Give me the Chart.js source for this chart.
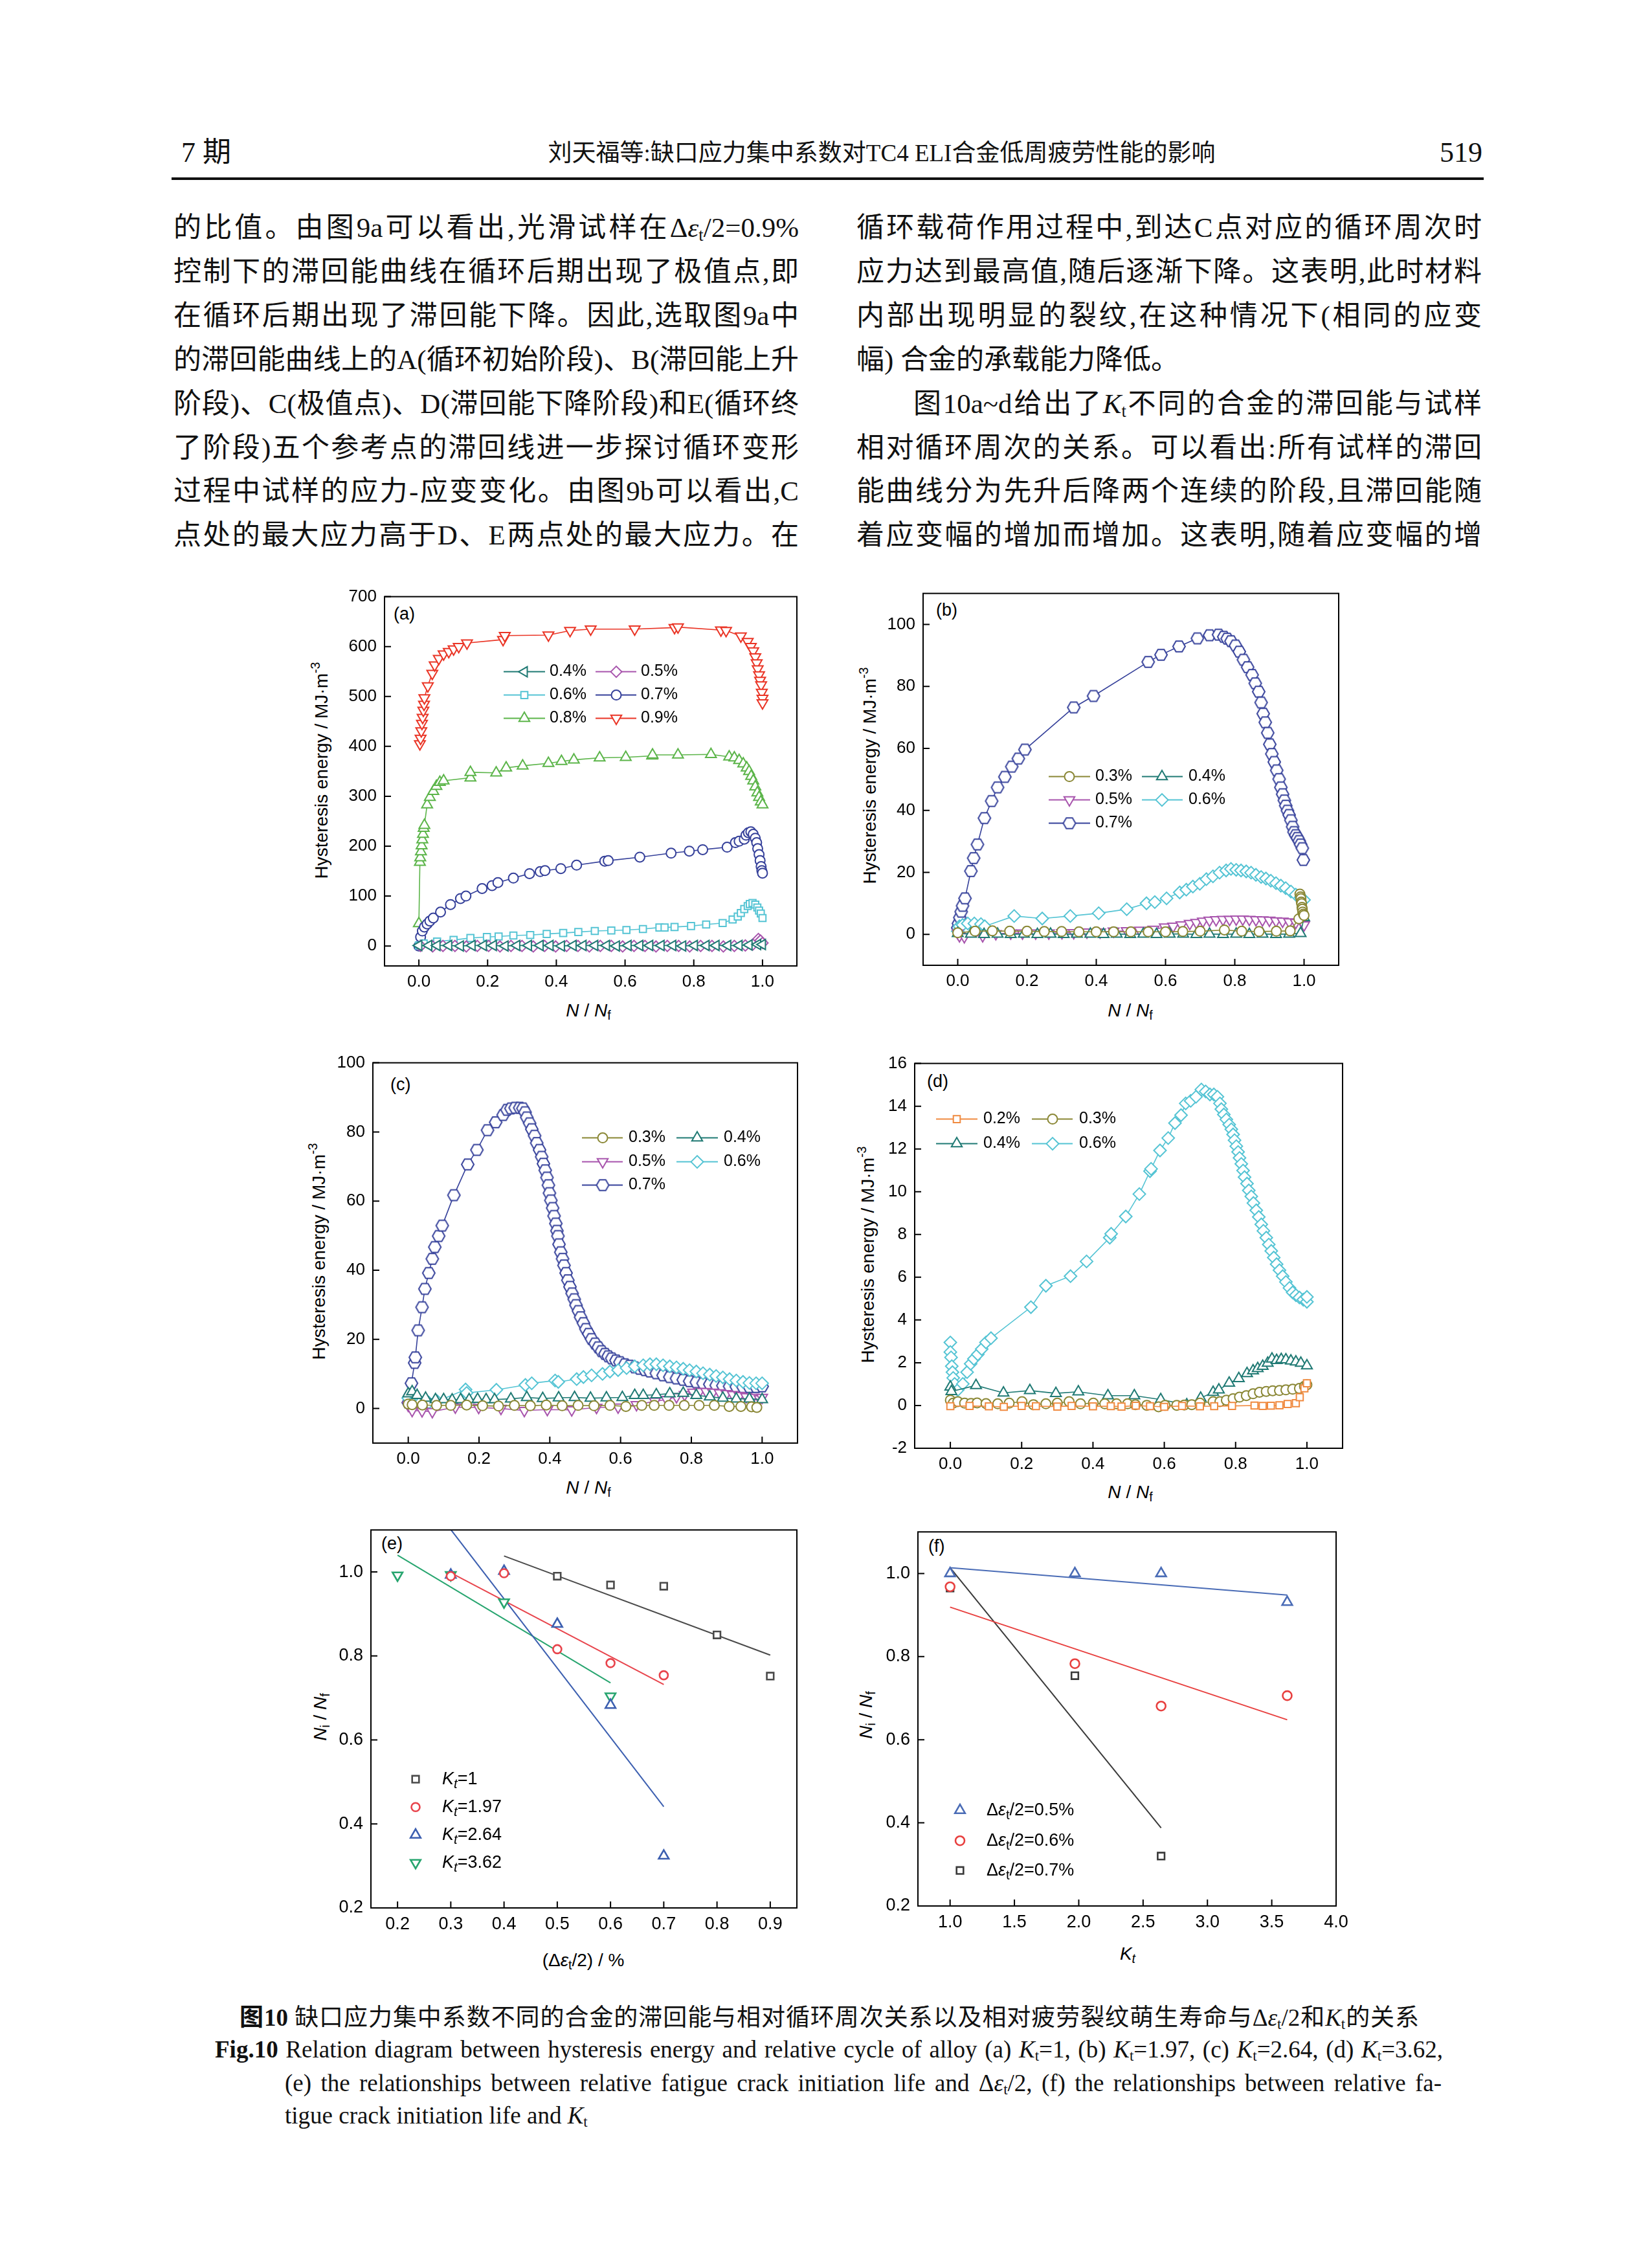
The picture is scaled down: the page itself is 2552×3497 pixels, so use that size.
<!DOCTYPE html>
<html lang="zh">
<head>
<meta charset="utf-8">
<title>图10</title>
<script src="https://cdn.jsdelivr.net/npm/chart.js@4.4.1/dist/chart.umd.min.js"></script>
<style>
  html, body { margin: 0; padding: 0; background: #fff; }
  #page { position: relative; width: 2552px; height: 3497px; background: #fff; overflow: hidden; }
  .t { position: absolute; white-space: nowrap; color: #111; font-family: "Liberation Serif", "Noto Sans CJK SC", serif; }
  .ln { position: absolute; width: 966px; height: 50px; line-height: 50px; font-size: 43px; white-space: nowrap;
        text-align: justify; text-align-last: justify; color: #111;
        font-family: "Liberation Serif", "Noto Sans CJK SC", serif; }
  .ln sub, .cap sub { font-size: 0.62em; vertical-align: -0.22em; line-height: 0; }
  .ax { position: absolute; white-space: nowrap; font-family: "Liberation Sans", Arial, sans-serif; font-size: 28px; color: #000; transform: translate(-50%, -50%); }
  .ax.rot { transform: translate(-50%, -50%) rotate(-90deg); }
  .ax sub { font-size: 0.7em; vertical-align: -0.25em; line-height: 0; }
  .ax sup { font-size: 0.7em; vertical-align: 0.6em; line-height: 0; }
  .pl { position: absolute; font-family: "Liberation Sans", Arial, sans-serif; font-size: 27px; line-height: 30px; color: #000; }
  .cap { position: absolute; height: 46px; line-height: 46px; white-space: nowrap; color: #111;
         font-family: "Liberation Serif", "Noto Sans CJK SC", serif; }
  .just { text-align: justify; text-align-last: justify; }
</style>
</head>
<body>
<div id="page">
  <!-- page header -->
  <div class="t" style="left:280px; top:211px; font-size:44px; line-height:50px;">7 期</div>
  <div class="t" style="left:1362px; top:212px; font-size:37px; line-height:50px; transform:translateX(-50%);">刘天福等:缺口应力集中系数对TC4 ELI合金低周疲劳性能的影响</div>
  <div class="t" style="right:262px; top:211px; font-size:44px; line-height:50px;">519</div>
  <div style="position:absolute; left:265px; top:274px; width:2027px; height:4px; background:#111;"></div>

  <!-- left column -->
  <div class="ln" style="left:268px; top:327px;">的比值。由图9a可以看出,光滑试样在Δ<i>ε</i><sub>t</sub>/2=0.9%</div>
  <div class="ln" style="left:268px; top:395px;">控制下的滞回能曲线在循环后期出现了极值点,即</div>
  <div class="ln" style="left:268px; top:463px;">在循环后期出现了滞回能下降。因此,选取图9a中</div>
  <div class="ln" style="left:268px; top:531px;">的滞回能曲线上的A(循环初始阶段)、B(滞回能上升</div>
  <div class="ln" style="left:268px; top:599px;">阶段)、C(极值点)、D(滞回能下降阶段)和E(循环终</div>
  <div class="ln" style="left:268px; top:667px;">了阶段)五个参考点的滞回线进一步探讨循环变形</div>
  <div class="ln" style="left:268px; top:734px;">过程中试样的应力-应变变化。由图9b可以看出,C</div>
  <div class="ln" style="left:268px; top:802px;">点处的最大应力高于D、E两点处的最大应力。在</div>

  <!-- right column -->
  <div class="ln" style="left:1323px; top:327px;">循环载荷作用过程中,到达C点对应的循环周次时</div>
  <div class="ln" style="left:1323px; top:395px;">应力达到最高值,随后逐渐下降。这表明,此时材料</div>
  <div class="ln" style="left:1323px; top:463px;">内部出现明显的裂纹,在这种情况下(相同的应变</div>
  <div class="ln" style="left:1323px; top:531px; text-align:left; text-align-last:left;">幅) 合金的承载能力降低。</div>
  <div class="ln" style="left:1411px; top:599px; width:878px;">图10a~d给出了<i>K</i><sub>t</sub>不同的合金的滞回能与试样</div>
  <div class="ln" style="left:1323px; top:667px;">相对循环周次的关系。可以看出:所有试样的滞回</div>
  <div class="ln" style="left:1323px; top:734px;">能曲线分为先升后降两个连续的阶段,且滞回能随</div>
  <div class="ln" style="left:1323px; top:802px;">着应变幅的增加而增加。这表明,随着应变幅的增</div>

  <!-- panel letters -->
  <div class="pl" style="left:608px; top:933px;">(a)</div>
  <div class="pl" style="left:1446px; top:927px;">(b)</div>
  <div class="pl" style="left:603px; top:1660px;">(c)</div>
  <div class="pl" style="left:1432px; top:1655px;">(d)</div>
  <div class="pl" style="left:589px; top:2369px;">(e)</div>
  <div class="pl" style="left:1434px; top:2373px;">(f)</div>

  <!-- axis titles -->
  <div class="ax rot" style="left:497px; top:1190px;">Hysteresis energy / MJ·m<sup>-3</sup></div>
  <div class="ax rot" style="left:1344px; top:1198px;">Hysteresis energy / MJ·m<sup>-3</sup></div>
  <div class="ax rot" style="left:493px; top:1933px;">Hysteresis energy / MJ·m<sup>-3</sup></div>
  <div class="ax rot" style="left:1341px; top:1938px;">Hysteresis energy / MJ·m<sup>-3</sup></div>
  <div class="ax rot" style="left:495px; top:2652px;"><i>N</i><sub>i</sub> / <i>N</i><sub>f</sub></div>
  <div class="ax rot" style="left:1338px; top:2649px;"><i>N</i><sub>i</sub> / <i>N</i><sub>f</sub></div>
  <div class="ax" style="left:909px; top:1561px;"><i>N</i> / <i>N</i><sub>f</sub></div>
  <div class="ax" style="left:1746px; top:1561px;"><i>N</i> / <i>N</i><sub>f</sub></div>
  <div class="ax" style="left:909px; top:2298px;"><i>N</i> / <i>N</i><sub>f</sub></div>
  <div class="ax" style="left:1746px; top:2305px;"><i>N</i> / <i>N</i><sub>f</sub></div>
  <div class="ax" style="left:901px; top:3028px;">(Δ<i>ε</i><sub>t</sub>/2) / %</div>
  <div class="ax" style="left:1742px; top:3018px;"><i>K</i><sub><i>t</i></sub></div>

  <!-- caption -->
  <div class="cap just" style="left:370px; top:3094px; width:1822px; font-size:37px;"><b>图10</b> 缺口应力集中系数不同的合金的滞回能与相对循环周次关系以及相对疲劳裂纹萌生寿命与Δ<i>ε</i><sub>t</sub>/2和<i>K</i><sub>t</sub>的关系</div>
  <div class="cap just" style="left:332px; top:3143px; width:1897px; font-size:37px;"><b>Fig.10</b> Relation diagram between hysteresis energy and relative cycle of alloy (a) <i>K</i><sub>t</sub>=1, (b) <i>K</i><sub>t</sub>=1.97, (c) <i>K</i><sub>t</sub>=2.64, (d) <i>K</i><sub>t</sub>=3.62,</div>
  <div class="cap just" style="left:440px; top:3195px; width:1787px; font-size:37px;">(e) the relationships between relative fatigue crack initiation life and Δ<i>ε</i><sub>t</sub>/2, (f) the relationships between relative fa-</div>
  <div class="cap" style="left:440px; top:3245px; font-size:37px;">tigue crack initiation life and <i>K</i><sub>t</sub></div>
</div>

<script>
// ---------------- ticks ----------------
const ticksNx = [0, 0.2, 0.4, 0.6, 0.8, 1.0];
const ticksAy = [0, 100, 200, 300, 400, 500, 600, 700];
const ticksBy = [0, 20, 40, 60, 80, 100];
const ticksCy = [0, 20, 40, 60, 80, 100];
const ticksDy = [-2, 0, 2, 4, 6, 8, 10, 12, 14, 16];
const ticksEx = [0.2, 0.3, 0.4, 0.5, 0.6, 0.7, 0.8, 0.9];
const ticksFx = [1.0, 1.5, 2.0, 2.5, 3.0, 3.5, 4.0];
const ticksLife = [0.2, 0.4, 0.6, 0.8, 1.0];

// ---------------- (a) Kt=1 ----------------
const a04x = [0.000,0.029,0.053,0.087,0.121,0.155,0.188,0.217,0.251,0.285,0.319,0.353,0.382,0.415,0.449,0.478,0.512,0.546,0.575,0.609,0.643,0.672,0.705,0.739,0.768,0.802,0.836,0.865,0.899,0.932,0.961,0.986,1.000];
const a04y = [1,1,1,1,0,1,1,1,0,1,1,1,1,0,1,1,1,1,0,1,1,1,1,1,0,1,1,1,1,1,2,3,3];
const a05x = [0.005,0.040,0.070,0.105,0.138,0.170,0.203,0.236,0.268,0.300,0.333,0.366,0.398,0.430,0.463,0.496,0.528,0.560,0.593,0.626,0.658,0.690,0.723,0.756,0.788,0.820,0.853,0.886,0.918,0.950,0.972,0.982,0.988,0.994,1.000];
const a05y = [0,-1,0,0,-1,0,0,-1,0,0,-1,0,-1,0,0,-1,0,0,-1,0,0,-1,0,0,-1,0,0,-1,0,1,3,9,14,11,6];
const a06x = [0.000,0.014,0.053,0.101,0.150,0.198,0.232,0.275,0.324,0.372,0.420,0.464,0.512,0.560,0.604,0.652,0.700,0.715,0.744,0.792,0.836,0.884,0.913,0.928,0.937,0.947,0.957,0.963,0.971,0.979,0.985,0.990,0.995,1.000];
const a06y = [1,5,9,12,16,18,19,21,22,24,26,28,30,31,32,34,37,37,38,40,43,46,53,59,66,74,80,84,86,83,77,71,65,56];
const a07x = [0.000,0.005,0.010,0.016,0.024,0.032,0.042,0.063,0.092,0.121,0.137,0.184,0.213,0.230,0.275,0.322,0.353,0.367,0.413,0.459,0.541,0.551,0.643,0.734,0.787,0.826,0.897,0.921,0.932,0.947,0.952,0.959,0.966,0.973,0.979,0.983,0.986,0.990,0.993,0.996,0.998,1.000];
const a07y = [0,18,30,38,44,50,56,68,83,95,100,115,121,127,136,145,149,151,155,162,170,171,178,186,190,193,198,207,210,214,222,227,229,224,216,207,195,183,171,159,151,146];
const a08x = [0.000,0.003,0.004,0.006,0.008,0.010,0.012,0.014,0.016,0.024,0.032,0.042,0.051,0.061,0.072,0.150,0.150,0.225,0.254,0.302,0.377,0.415,0.451,0.526,0.602,0.679,0.680,0.754,0.850,0.903,0.918,0.932,0.944,0.954,0.961,0.967,0.973,0.979,0.985,0.990,0.995,1.000];
const a08y = [45,168,177,189,201,213,224,236,242,283,298,310,320,328,331,337,348,347,357,361,366,370,373,377,378,381,383,383,384,379,377,372,365,357,350,340,331,319,307,298,289,283];
const a09x = [0.003,0.005,0.007,0.009,0.011,0.013,0.015,0.016,0.026,0.039,0.046,0.058,0.072,0.087,0.101,0.116,0.140,0.245,0.250,0.377,0.440,0.500,0.628,0.744,0.754,0.879,0.894,0.937,0.957,0.966,0.973,0.979,0.983,0.986,0.990,0.993,0.996,0.998,1.000,1.000];
const a09y = [405,416,431,446,458,472,484,497,521,546,563,576,585,590,595,600,607,614,622,623,632,635,635,638,639,633,632,621,610,600,591,579,567,555,543,532,523,508,496,487];

// ---------------- (b) Kt=1.97 ----------------
const b03x = [0.000,0.050,0.100,0.150,0.200,0.250,0.300,0.350,0.400,0.450,0.500,0.550,0.600,0.650,0.700,0.770,0.820,0.870,0.920,0.960,0.985,0.988,0.990,0.991,0.992,0.993,0.994,0.995,0.996,0.998,1.000];
const b03y = [0.5,1.0,1.1,1.0,1.0,0.9,0.9,0.8,0.8,0.8,0.8,0.8,0.8,0.9,1.0,1.4,1.0,0.9,1.0,1.1,5.0,13.0,12.1,11.5,10.4,9.9,8.7,8.1,7.2,6.5,6.1];
const b04x = [0.000,0.038,0.076,0.115,0.153,0.191,0.230,0.268,0.306,0.344,0.383,0.421,0.459,0.498,0.536,0.574,0.612,0.651,0.689,0.727,0.766,0.804,0.842,0.880,0.919,0.957,0.990,1.000];
const b04y = [0.3,0.1,0.0,0.1,0.0,0.1,0.0,0.1,0.0,0.1,0.1,0.0,0.1,0.0,0.1,0.0,0.1,0.1,0.0,0.1,0.0,0.1,0.0,0.1,0.0,0.1,0.3,5.4];
const b05x = [0.000,0.005,0.019,0.072,0.110,0.153,0.187,0.225,0.263,0.301,0.335,0.373,0.411,0.450,0.488,0.526,0.565,0.598,0.622,0.646,0.670,0.689,0.708,0.727,0.746,0.766,0.785,0.804,0.823,0.842,0.861,0.880,0.900,0.919,0.938,0.957,0.976,0.995,1.000];
const b05y = [0.4,-0.5,-0.8,-0.5,0.2,0.4,0.4,0.4,0.4,0.5,0.5,0.7,0.7,1.0,1.1,1.3,1.6,2.3,2.6,3.0,3.5,3.8,4.2,4.5,4.7,4.8,4.8,4.9,4.9,4.8,4.7,4.6,4.5,4.3,4.2,4.0,3.8,3.7,3.0];
const b06x = [0.000,0.005,0.014,0.029,0.048,0.067,0.078,0.163,0.244,0.325,0.407,0.488,0.545,0.569,0.603,0.641,0.660,0.679,0.699,0.718,0.737,0.756,0.775,0.789,0.804,0.818,0.833,0.847,0.861,0.876,0.890,0.904,0.919,0.933,0.947,0.962,0.976,0.990,1.000];
const b06y = [1.0,2.6,3.0,3.5,3.5,3.3,2.6,5.9,5.1,5.9,6.8,8.1,10.0,10.4,11.6,13.5,14.4,15.4,16.3,17.8,18.7,19.9,20.6,21.1,20.8,20.6,20.3,19.9,19.2,18.5,18.0,17.3,16.5,15.7,14.9,13.8,12.8,11.9,11.1];
const b07x = [0.000,0.002,0.006,0.010,0.014,0.021,0.038,0.046,0.057,0.077,0.098,0.115,0.136,0.156,0.175,0.194,0.335,0.392,0.550,0.587,0.639,0.692,0.727,0.753,0.768,0.778,0.789,0.802,0.813,0.825,0.837,0.850,0.859,0.869,0.876,0.882,0.888,0.895,0.901,0.907,0.914,0.921,0.928,0.933,0.938,0.943,0.947,0.952,0.957,0.962,0.967,0.971,0.976,0.981,0.986,0.990,0.995,0.998];
const b07y = [2.1,3.5,5.4,7.3,9.2,11.6,20.4,24.6,29.0,37.5,43.0,47.4,50.8,54.1,56.7,59.6,73.2,76.9,87.9,90.2,92.9,95.5,96.5,96.7,96.0,95.4,94.6,93.2,91.2,88.6,86.2,83.7,81.0,78.3,74.8,71.2,68.4,65.0,61.3,58.2,55.6,52.9,50.1,47.4,45.2,43.2,41.5,39.9,38.5,36.8,34.7,33.0,32.0,31.1,30.1,29.0,27.8,24.0];

// ---------------- (c) Kt=2.64 ----------------
const c03x = [0.000,0.011,0.040,0.080,0.120,0.165,0.210,0.255,0.300,0.345,0.390,0.435,0.480,0.525,0.570,0.615,0.660,0.695,0.737,0.780,0.822,0.865,0.907,0.940,0.970,0.985];
const c03y = [1.3,1.1,1.0,0.9,0.9,1.0,0.8,0.7,0.9,0.8,1.0,0.8,0.9,0.8,0.9,0.6,0.9,0.9,0.9,0.9,0.9,0.9,0.6,0.6,0.5,0.3];
const c04x = [0.000,0.011,0.025,0.049,0.077,0.100,0.124,0.148,0.172,0.196,0.220,0.244,0.290,0.335,0.380,0.425,0.470,0.515,0.560,0.605,0.640,0.664,0.701,0.739,0.777,0.814,0.852,0.889,0.927,0.964,1.000];
const c04y = [4.3,4.9,3.8,3.0,2.6,2.6,2.5,2.6,2.6,2.7,2.6,2.6,2.8,3.2,2.9,3.1,3.2,3.0,3.1,3.2,3.8,3.8,4.0,4.3,4.4,3.8,3.4,3.0,2.8,2.8,2.6];
const c05x = [0.000,0.011,0.039,0.068,0.133,0.199,0.262,0.328,0.393,0.462,0.532,0.593,0.645,0.697,0.730,0.758,0.781,0.805,0.823,0.842,0.861,0.880,0.899,0.917,0.936,0.955,0.974,0.993,1.000];
const c05y = [0.9,-0.6,-0.7,-0.9,0.4,0.3,0.0,-0.6,-0.3,-0.4,0.3,0.4,1.1,2.1,2.6,3.4,4.0,4.7,4.9,4.9,4.7,4.5,4.3,4.0,3.7,3.4,3.2,2.8,3.2];
const c06x = [0.000,0.011,0.030,0.058,0.082,0.162,0.165,0.249,0.331,0.349,0.415,0.424,0.476,0.495,0.518,0.549,0.570,0.593,0.617,0.640,0.664,0.683,0.701,0.720,0.739,0.758,0.777,0.795,0.814,0.833,0.852,0.870,0.889,0.908,0.927,0.946,0.964,0.983,1.000];
const c06y = [3.0,1.7,1.3,1.7,2.1,5.5,4.5,5.4,6.8,7.3,8.1,7.7,8.5,9.1,9.6,10.0,10.7,11.1,11.7,12.2,12.5,12.8,12.8,12.5,12.2,11.9,11.5,11.1,10.7,10.2,9.8,9.4,9.0,8.5,8.1,7.7,7.4,7.3,7.3];
const c07x = [0.000,0.005,0.009,0.018,0.020,0.028,0.039,0.047,0.058,0.068,
  0.075,0.086,0.096,0.129,0.168,0.194,0.224,0.247,0.268,0.279,
  0.290,0.302,0.315,0.324,0.330,0.335,0.343,0.349,0.357,0.363,
  0.371,0.377,0.382,0.387,0.392,0.396,0.399,0.403,0.408,0.412,
  0.417,0.420,0.423,0.426,0.431,0.436,0.440,0.446,0.451,0.457,
  0.463,0.469,0.474,0.481,0.487,0.495,0.502,0.510,0.518,0.528,
  0.537,0.546,0.556,0.565,0.575,0.587,0.598,0.612,0.626,0.640,
  0.654,0.669,0.683,0.701,0.720,0.739,0.758,0.777,0.795,0.814,
  0.833,0.852,0.870,0.889,0.908,0.927,0.946,0.964,0.983,1.000];
const c07y = [1.7,3.8,7.3,13.2,14.8,22.6,29.3,34.6,39.2,43.3,
  46.7,49.9,52.9,61.7,70.6,74.8,80.5,82.8,84.9,86.4,
  86.8,87.0,87.0,86.8,85.7,84.2,82.5,80.8,78.9,76.8,
  74.8,72.8,70.8,68.9,66.8,64.6,62.3,60.2,58.0,55.7,
  53.5,51.4,49.9,47.5,45.2,43.3,41.4,39.2,37.1,35.2,
  33.3,31.6,29.9,28.2,26.4,24.7,23.0,21.6,20.1,18.8,
  17.7,16.6,15.8,15.1,14.5,13.9,13.4,12.8,12.4,11.9,
  11.5,11.1,10.7,10.2,9.6,9.1,8.7,8.3,7.9,7.6,
  7.3,7.0,6.7,6.6,6.4,6.3,6.2,6.2,6.2,6.4];

// ---------------- (d) Kt=3.62 ----------------
const d02x = [0.000,0.054,0.108,0.150,0.200,0.240,0.300,0.340,0.400,0.450,0.480,0.520,0.560,0.600,0.650,0.700,0.740,0.790,0.853,0.876,0.899,0.923,0.946,0.969,0.980,0.993,1.000];
const d02y = [-0.03,-0.02,-0.04,-0.06,-0.02,-0.03,-0.05,-0.02,-0.04,-0.03,-0.05,-0.01,-0.03,-0.06,-0.02,-0.04,-0.03,-0.02,0.00,-0.02,-0.01,0.01,0.07,0.11,0.39,0.80,1.04];
const d03x = [0.000,0.008,0.021,0.040,0.058,0.075,0.100,0.133,0.165,0.201,0.233,0.268,0.300,0.333,0.365,0.401,0.433,0.466,0.497,0.519,0.551,0.584,0.602,0.635,0.656,0.677,0.700,0.737,0.756,0.774,0.793,0.811,0.830,0.849,0.867,0.886,0.904,0.923,0.941,0.960,0.979,0.993,1.000];
const d03y = [0.25,0.11,0.18,0.11,0.10,0.12,0.09,0.08,0.11,0.18,0.04,0.08,0.11,0.18,0.08,0.11,0.08,0.08,0.08,0.04,0.01,-0.06,0.01,0.01,0.02,0.04,0.11,0.18,0.18,0.25,0.32,0.39,0.46,0.55,0.62,0.66,0.69,0.70,0.73,0.76,0.80,0.90,0.97];
const d04x = [0.000,0.003,0.072,0.149,0.223,0.296,0.359,0.442,0.516,0.590,0.663,0.702,0.737,0.753,0.782,0.809,0.832,0.849,0.862,0.876,0.890,0.902,0.915,0.928,0.941,0.955,0.969,0.983,1.000];
const d04y = [0.87,0.66,0.94,0.59,0.70,0.57,0.64,0.46,0.46,0.28,0.04,0.35,0.62,0.73,1.05,1.26,1.50,1.63,1.73,1.84,1.98,2.18,2.11,2.16,2.14,2.09,2.04,1.98,1.86];
const d06x = [0.000,0.000,0.002,0.004,0.006,0.008,0.012,0.021,0.035,0.047,
  0.057,0.066,0.077,0.088,0.100,0.114,0.226,0.268,0.337,0.382,
  0.447,0.451,0.492,0.530,0.560,0.563,0.588,0.611,0.630,0.647,
  0.660,0.674,0.689,0.704,0.716,0.728,0.739,0.749,0.756,0.760,
  0.767,0.774,0.782,0.788,0.793,0.797,0.802,0.807,0.811,0.816,
  0.821,0.825,0.832,0.837,0.844,0.850,0.858,0.865,0.872,0.878,
  0.886,0.893,0.900,0.907,0.915,0.923,0.932,0.941,0.951,0.960,
  0.969,0.979,0.990,1.000,1.000];
const d06y = [2.95,2.50,2.25,1.84,1.56,1.29,1.01,0.73,1.01,1.56,
  1.95,2.18,2.39,2.64,2.95,3.15,4.60,5.60,6.05,6.74,
  7.85,8.03,8.84,9.89,10.96,11.07,11.93,12.51,13.21,13.58,
  14.13,14.25,14.44,14.78,14.69,14.55,14.55,14.44,14.13,13.86,
  13.61,13.38,13.14,12.92,12.68,12.41,12.13,11.86,11.58,11.30,
  10.99,10.68,10.38,10.06,9.78,9.47,9.13,8.82,8.47,8.17,
  7.85,7.53,7.23,6.92,6.61,6.33,6.05,5.78,5.50,5.29,
  5.16,5.05,4.95,4.85,5.08];

// ---------------- (e) Ni/Nf vs strain amplitude ----------------
const eKt1x = [0.5, 0.6, 0.7, 0.8, 0.9];
const eKt1y = [0.990, 0.969, 0.966, 0.850, 0.752];
const eKt197x = [0.3, 0.4, 0.5, 0.6, 0.7];
const eKt197y = [0.990, 0.997, 0.816, 0.783, 0.754];
const eKt264x = [0.3, 0.4, 0.5, 0.6, 0.7];
const eKt264y = [0.993, 1.002, 0.876, 0.683, 0.324];
const eKt362x = [0.2, 0.3, 0.4, 0.6];
const eKt362y = [0.992, 0.993, 0.928, 0.704];
// fitted lines (end points)
const eFit1x = [0.4, 0.9], eFit1y = [1.038, 0.802];
const eFit197x = [0.3, 0.7], eFit197y = [0.998, 0.732];
const eFit264x = [0.3, 0.7], eFit264y = [1.101, 0.441];
const eFit362x = [0.2, 0.6], eFit362y = [1.040, 0.736];

// ---------------- (f) Ni/Nf vs Kt ----------------
const fKt = [1.0, 1.97, 2.64, 3.62];
const f05y = [1.000, 1.000, 1.000, 0.931];
const f06y = [0.968, 0.783, 0.681, 0.706];
const f07x = [1.0, 1.97, 2.64];
const f07y = [0.965, 0.754, 0.320];
const fFit05x = [1.0, 3.62], fFit05y = [1.014, 0.948];
const fFit06x = [1.0, 3.62], fFit06y = [0.919, 0.648];
const fFit07x = [1.0, 2.64], fFit07y = [1.014, 0.388];

// ---------------- colours ----------------
const cRed = '#ea3526', cGreen = '#5cb54a', cBlue = '#35409a', cCyan = '#55c4d4';
const cMag = '#a855ad', cTeal = '#207a74', cOlive = '#8a8735', cOrange = '#f08a40';

Chart.defaults.font.family = "'Liberation Sans', Arial, sans-serif";
Chart.defaults.color = '#000';

const PAD_L = 100, PAD_T = 20, PAD_R = 30, PAD_B = 70;
const SANS = "'Liberation Sans', Arial, sans-serif";

function hexagon(r, color, lw) {
  const c = document.createElement('canvas');
  const s = Math.ceil(2 * r + 2 * lw);
  c.width = s; c.height = s;
  const g = c.getContext('2d');
  g.beginPath();
  for (let k = 0; k < 6; k++) {
    const ang = Math.PI / 3 * k;
    const px = s / 2 + r * Math.cos(ang), py = s / 2 + r * Math.sin(ang);
    if (k === 0) g.moveTo(px, py); else g.lineTo(px, py);
  }
  g.closePath();
  g.fillStyle = '#fff'; g.fill();
  g.strokeStyle = color; g.lineWidth = lw; g.stroke();
  return c;
}

function zip(xs, ys) { return xs.map((x, i) => ({ x, y: ys[i] })); }

function series(xs, ys, color, style, r, rot, bw) {
  return {
    data: zip(xs, ys), showLine: true, tension: 0,
    borderColor: color, borderWidth: 1.6,
    pointStyle: style, pointRadius: r, pointRotation: rot || 0,
    pointBorderColor: color, pointBackgroundColor: '#fff', pointBorderWidth: bw || 2
  };
}
function marks(xs, ys, color, style, r, rot) {
  const d = series(xs, ys, color, style, r, rot, 2.6);
  d.showLine = false;
  return d;
}
function fit(xs, ys, color) {
  return { data: zip(xs, ys), showLine: true, borderColor: color, borderWidth: 2, pointRadius: 0, tension: 0 };
}

function drawRich(ctx, segs, x, y, size) {
  for (const s of segs) {
    const sz = s.sub ? size * 0.75 : size;
    ctx.font = (s.i ? 'italic ' : '') + sz + 'px ' + SANS;
    ctx.fillText(s.t, x, s.sub ? y + size * 0.3 : y);
    x += ctx.measureText(s.t).width;
  }
}

const framePlugin = {
  id: 'frame',
  afterDatasetsDraw(chart) {
    const { ctx, chartArea: a, scales } = chart;
    ctx.save();
    ctx.strokeStyle = '#000';
    ctx.lineWidth = 2;
    ctx.strokeRect(a.left, a.top, a.right - a.left, a.bottom - a.top);
    ctx.beginPath();
    for (const t of scales.x.ticks) {
      const px = scales.x.getPixelForValue(t.value);
      ctx.moveTo(px, a.bottom); ctx.lineTo(px, a.bottom - 10);
    }
    for (const t of scales.y.ticks) {
      const py = scales.y.getPixelForValue(t.value);
      ctx.moveTo(a.left, py); ctx.lineTo(a.left + 10, py);
    }
    ctx.stroke();
    ctx.restore();
  }
};

// legend drawn inside the frame, rows of [line - marker - line]  label
function rowLegend(items, size) {
  return {
    id: 'rowLegend',
    afterDraw(chart) {
      const { ctx, chartArea: a } = chart;
      ctx.save();
      ctx.textBaseline = 'middle';
      for (const it of items) {
        const ds = chart.data.datasets[it.ds];
        const y = a.top + it.y;
        ctx.strokeStyle = ds.borderColor;
        if (it.line) {
          ctx.lineWidth = 2;
          ctx.beginPath();
          ctx.moveTo(a.left + it.line[0], y);
          ctx.lineTo(a.left + it.line[1], y);
          ctx.stroke();
        }
        ctx.fillStyle = '#fff';
        ctx.lineWidth = ds.pointBorderWidth;
        Chart.helpers.drawPoint(ctx, {
          pointStyle: ds.pointStyle, radius: ds.pointRadius,
          rotation: ds.pointRotation || 0, borderWidth: ds.pointBorderWidth
        }, a.left + it.m, y);
        ctx.fillStyle = '#000';
        drawRich(ctx, it.label, a.left + it.t, y, size);
      }
      ctx.restore();
    }
  };
}

function axis(min, max, ticks, fmt, isX, size) {
  return {
    type: 'linear', min, max,
    grid: { display: false, drawTicks: false },
    border: { display: false },
    afterBuildTicks: s => { s.ticks = ticks.map(v => ({ value: v })); },
    afterFit: s => { if (isX) s.height = PAD_B; else s.width = PAD_L; },
    ticks: { autoSkip: false, maxRotation: 0, minRotation: 0, padding: isX ? 9 : 12,
             font: { size }, color: '#000', callback: v => fmt(v) }
  };
}

const f1 = v => Number(v).toFixed(1);
const f0 = v => String(Math.round(v));

function makeChart(box, xr, yr, datasets, legend, fontTick, fontLeg) {
  const cv = document.createElement('canvas');
  const w = box.R - box.L + PAD_L + PAD_R, h = box.B - box.T + PAD_T + PAD_B;
  cv.width = w; cv.height = h;
  cv.style.cssText = 'position:absolute;left:' + (box.L - PAD_L) + 'px;top:' + (box.T - PAD_T) + 'px;width:' + w + 'px;height:' + h + 'px;';
  document.getElementById('page').appendChild(cv);
  return new Chart(cv, {
    type: 'scatter',
    data: { datasets },
    options: {
      responsive: false, animation: false, devicePixelRatio: 1, events: [],
      layout: { padding: { left: 0, top: PAD_T, right: PAD_R, bottom: 0 } },
      plugins: { legend: { display: false }, tooltip: { enabled: false } },
      scales: {
        x: axis(xr[0], xr[1], xr[2], xr[3], true, fontTick),
        y: axis(yr[0], yr[1], yr[2], yr[3], false, fontTick)
      }
    },
    plugins: [framePlugin, rowLegend(legend, fontLeg)]
  });
}

const P = s => [{ t: s }];
const KT = s => [{ t: 'K', i: 1 }, { t: 't', i: 1, sub: 1 }, { t: s }];
const DE = s => [{ t: 'Δ' }, { t: 'ε', i: 1 }, { t: 't', sub: 1 }, { t: s }];

// (a)
makeChart({ L: 594, T: 914, R: 1231, B: 1492 },
  [-0.1, 1.1, ticksNx, f1], [-40, 700, ticksAy, f0],
  [
    series(a04x, a04y, cTeal, 'triangle', 9, -90),
    series(a05x, a05y, cMag, 'rectRot', 8.5),
    series(a06x, a06y, cCyan, 'rect', 7.5),
    series(a07x, a07y, cBlue, 'circle', 7.5),
    series(a08x, a08y, cGreen, 'triangle', 9.5),
    series(a09x, a09y, cRed, 'triangle', 9.5, 180)
  ],
  [
    { ds: 0, y: 116, line: [184, 248], m: 216, t: 255, label: P('0.4%') },
    { ds: 1, y: 116, line: [326, 389], m: 358, t: 396, label: P('0.5%') },
    { ds: 2, y: 152, line: [184, 248], m: 216, t: 255, label: P('0.6%') },
    { ds: 3, y: 152, line: [326, 389], m: 358, t: 396, label: P('0.7%') },
    { ds: 4, y: 188, line: [184, 248], m: 216, t: 255, label: P('0.8%') },
    { ds: 5, y: 188, line: [326, 389], m: 358, t: 396, label: P('0.9%') }
  ], 26, 25);

// (b)
makeChart({ L: 1426, T: 909, R: 2068, B: 1491 },
  [-0.1, 1.1, ticksNx, f1], [-10, 110, ticksBy, f0],
  [
    series(b03x, b03y, cOlive, 'circle', 7.5),
    series(b04x, b04y, cTeal, 'triangle', 9.5),
    series(b05x, b05y, cMag, 'triangle', 9.5, 180),
    series(b06x, b06y, cCyan, 'rectRot', 9.5),
    series(b07x, b07y, cBlue, hexagon(9.5, cBlue, 2), 9.5)
  ],
  [
    { ds: 0, y: 283, line: [194, 258], m: 226, t: 266, label: P('0.3%') },
    { ds: 1, y: 283, line: [338, 401], m: 369, t: 410, label: P('0.4%') },
    { ds: 2, y: 319, line: [194, 258], m: 226, t: 266, label: P('0.5%') },
    { ds: 3, y: 319, line: [338, 401], m: 369, t: 410, label: P('0.6%') },
    { ds: 4, y: 355, line: [194, 258], m: 226, t: 266, label: P('0.7%') }
  ], 26, 25);

// (c)
makeChart({ L: 576, T: 1634, R: 1232, B: 2229 },
  [-0.1, 1.1, ticksNx, f1], [-10, 100, ticksCy, f0],
  [
    series(c03x, c03y, cOlive, 'circle', 7.5),
    series(c04x, c04y, cTeal, 'triangle', 9.5),
    series(c05x, c05y, cMag, 'triangle', 9.5, 180),
    series(c06x, c06y, cCyan, 'rectRot', 9.5),
    series(c07x, c07y, cBlue, hexagon(9.5, cBlue, 2), 9.5)
  ],
  [
    { ds: 0, y: 116, line: [323, 386], m: 355, t: 395, label: P('0.3%') },
    { ds: 1, y: 116, line: [469, 533], m: 501, t: 542, label: P('0.4%') },
    { ds: 2, y: 153, line: [323, 386], m: 355, t: 395, label: P('0.5%') },
    { ds: 3, y: 153, line: [469, 533], m: 501, t: 542, label: P('0.6%') },
    { ds: 4, y: 189, line: [323, 386], m: 355, t: 395, label: P('0.7%') }
  ], 26, 25);

// (d)
makeChart({ L: 1413, T: 1635, R: 2074, B: 2237 },
  [-0.1, 1.1, ticksNx, f1], [-2, 16, ticksDy, f0],
  [
    series(d02x, d02y, cOrange, 'rect', 7.5),
    series(d03x, d03y, cOlive, 'circle', 7.5),
    series(d04x, d04y, cTeal, 'triangle', 9.5),
    series(d06x, d06y, cCyan, 'rectRot', 9.5)
  ],
  [
    { ds: 0, y: 86, line: [33, 97], m: 65, t: 106, label: P('0.2%') },
    { ds: 1, y: 86, line: [181, 244], m: 213, t: 254, label: P('0.3%') },
    { ds: 2, y: 124, line: [33, 97], m: 65, t: 106, label: P('0.4%') },
    { ds: 3, y: 124, line: [181, 244], m: 213, t: 254, label: P('0.6%') }
  ], 26, 25);

// (e)
const eGray = '#4a4a4a', eRed = '#e8444c', eBlue = '#3c5fb0', eGreen = '#27a56f';
makeChart({ L: 573, T: 2355, R: 1231, B: 2947 },
  [0.15, 0.95, ticksEx, f1], [0.2, 1.1, ticksLife, f1],
  [
    marks(eKt1x, eKt1y, eGray, 'rect', 7.5),
    marks(eKt197x, eKt197y, eRed, 'circle', 6.5),
    marks(eKt264x, eKt264y, eBlue, 'triangle', 9),
    marks(eKt362x, eKt362y, eGreen, 'triangle', 9, 180),
    fit(eFit1x, eFit1y, eGray),
    fit(eFit197x, eFit197y, eRed),
    fit(eFit264x, eFit264y, eBlue),
    fit(eFit362x, eFit362y, eGreen)
  ],
  [
    { ds: 0, y: 385, m: 69, t: 110, label: KT('=1') },
    { ds: 1, y: 428, m: 69, t: 110, label: KT('=1.97') },
    { ds: 2, y: 471, m: 69, t: 110, label: KT('=2.64') },
    { ds: 3, y: 514, m: 69, t: 110, label: KT('=3.62') }
  ], 27, 27);

// (f)
const fBlue = '#4a6cb6', fRed = '#e8403f', fDark = '#3a3a3a';
makeChart({ L: 1418, T: 2358, R: 2064, B: 2944 },
  [0.75, 4.0, ticksFx, f1], [0.2, 1.1, ticksLife, f1],
  [
    marks(fKt, f05y, fBlue, 'triangle', 9),
    marks(fKt, f06y, fRed, 'circle', 7),
    marks(f07x, f07y, fDark, 'rect', 7.5),
    fit(fFit05x, fFit05y, fBlue),
    fit(fFit06x, fFit06y, fRed),
    fit(fFit07x, fFit07y, fDark)
  ],
  [
    { ds: 0, y: 430, m: 65, t: 106, label: DE('/2=0.5%') },
    { ds: 1, y: 477, m: 65, t: 106, label: DE('/2=0.6%') },
    { ds: 2, y: 523, m: 65, t: 106, label: DE('/2=0.7%') }
  ], 27, 27);
</script>
</body>
</html>
